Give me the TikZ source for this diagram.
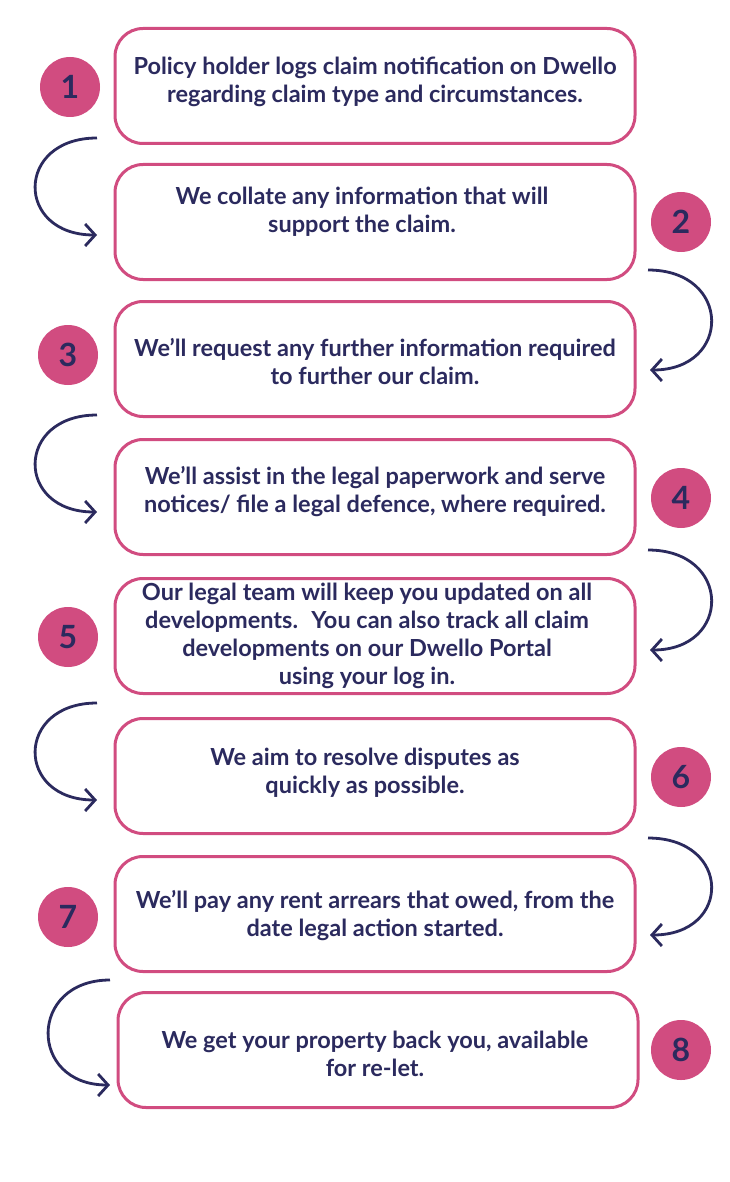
\documentclass[tikz,border=0pt]{standalone}
\usepackage{fontspec}
\setmainfont{Lato}
\usetikzlibrary{arrows.meta}
\definecolor{rose}{HTML}{D14C80}
\definecolor{ink}{HTML}{2B2A5E}
\tikzset{
  stepbox/.style={draw=rose, line width=3pt, rounded corners=28pt, minimum width=520pt, minimum height=115pt, fill=white},
  steptext/.style={text=ink, font=\fontsize{23.5}{28}\selectfont\bfseries, align=center},
  numdot/.style={circle, fill=rose, minimum size=60pt, text=ink, font=\fontsize{32}{32}\selectfont\bfseries},
  turn/.style={draw=ink, line width=2.8pt, -{Straight Barb[length=10pt, width=22pt]}}
}
\begin{document}
\begin{tikzpicture}[x=1pt, y=-1pt]
\useasboundingbox (0,0) rectangle (730,1182);
\node[stepbox] (B1) at (375,86) {};
\node[stepbox] (B2) at (375,222) {};
\node[stepbox] (B3) at (375,359) {};
\node[stepbox] (B4) at (375,497) {};
\node[stepbox] (B5) at (375,636) {};
\node[stepbox] (B6) at (375,776) {};
\node[stepbox] (B7) at (375,914) {};
\node[stepbox] (B8) at (378,1050) {};
\node[steptext] (T1) at (375,82) {Policy holder logs claim notification on Dwello\\regarding claim type and circumstances.};
\node[steptext] (T2) at (362,212) {We collate any information that will\\support the claim.};
\node[steptext] (T3) at (375,362) {We’ll request any further information required\\to further our claim.};
\node[steptext] (T4) at (375,492) {We’ll assist in the legal paperwork and serve\\notices/ file a legal defence, where required.};
\node[steptext] (T5) at (367,636) {Our legal team will keep you updated on all\\developments.~ You can also track all claim\\developments on our Dwello Portal\\using your log in.};
\node[steptext] (T6) at (365,773) {We aim to resolve disputes as\\quickly as possible.};
\node[steptext] (T7) at (375,916) {We’ll pay any rent arrears that owed, from the\\date legal action started.};
\node[steptext] (T8) at (375,1054) {We get your property back you, available\\for re-let.};
% step numbers
\foreach \n/\x/\y in {1/70/87, 2/681/222, 3/68/355, 4/681/498, 5/68/637, 6/681/777, 7/68/917, 8/681/1050}
  \node[numdot] (N\n) at (\x,\y) {\n};
% turning arrows
\foreach \k/\ya/\yb in {1/138/235, 3/415/512, 5/703/800}{
  \coordinate (L\k a) at (97,\ya);
  \coordinate (L\k b) at (97,\yb);
  \draw[turn] (L\k a) .. controls (15,\ya) and (15,\yb) .. (L\k b);
}
\coordinate (L7a) at (110,980);
\coordinate (L7b) at (110,1085);
\draw[turn] (L7a) .. controls (28,980) and (28,1085) .. (L7b);
\foreach \k/\ya/\yb in {2/270/370, 4/550/650, 6/838/935}{
  \coordinate (R\k a) at (648,\ya);
  \coordinate (R\k b) at (650,\yb);
  \draw[turn] (R\k a) .. controls (732,\ya) and (732,\yb) .. (R\k b);
}
\end{tikzpicture}
\end{document}
